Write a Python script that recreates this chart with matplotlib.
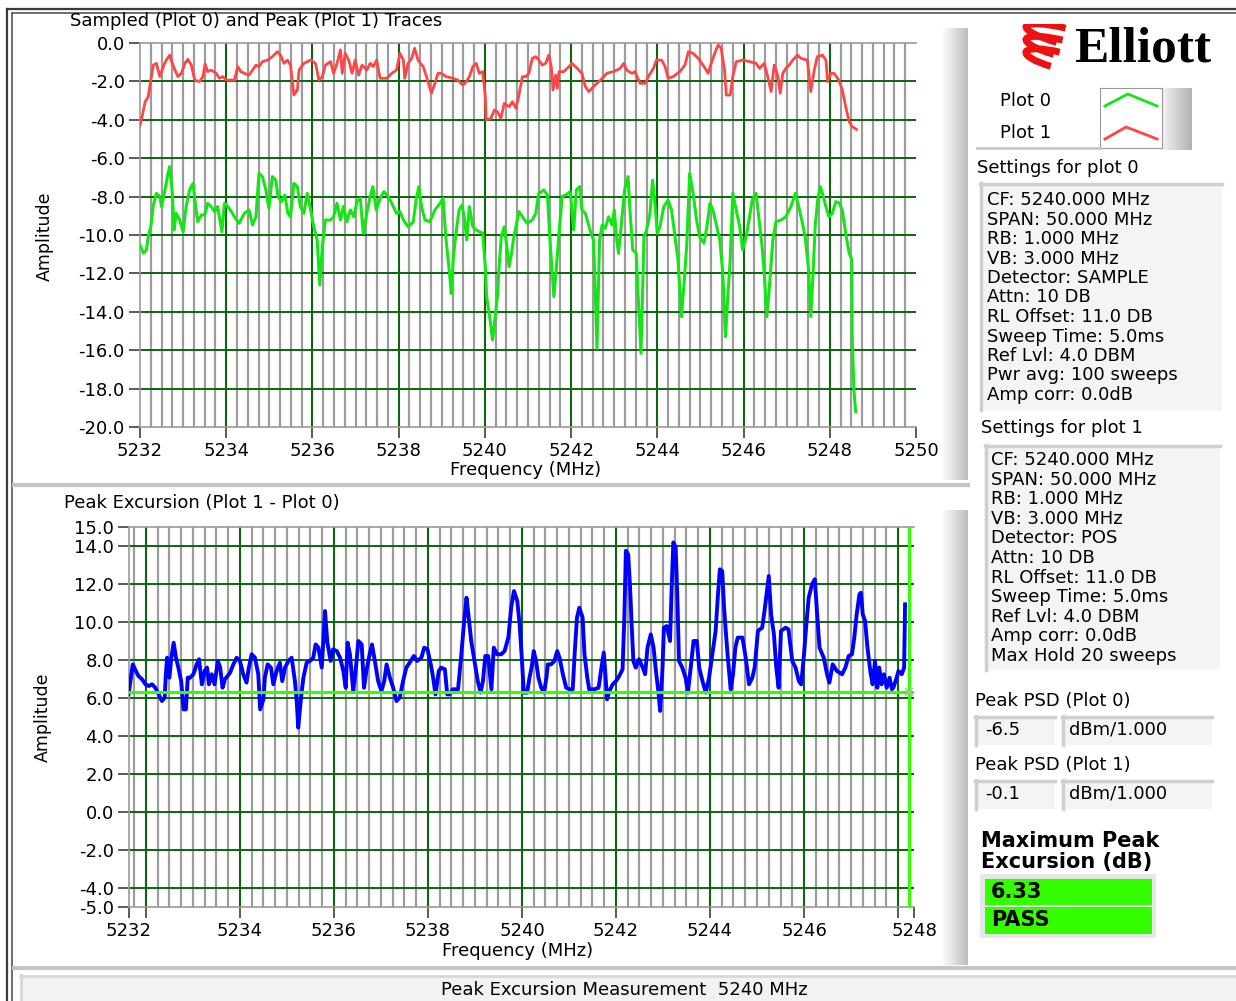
import matplotlib
matplotlib.use("Agg")
import matplotlib.pyplot as plt
from matplotlib.patches import Rectangle, Arc
from matplotlib.lines import Line2D
import numpy as np

plt.rcParams['font.family'] = ['DejaVu Sans']
plt.rcParams['axes.unicode_minus'] = False

W, H = 1236, 1001

# Plot 0 - sampled trace (green), MHz / amplitude
plot0_freq = [5232.00, 5232.08, 5232.15, 5232.19, 5232.25, 5232.31, 5232.38, 5232.46, 5232.50, 5232.58,
              5232.65, 5232.69, 5232.75, 5232.79, 5232.84, 5232.92, 5233.00, 5233.07, 5233.15, 5233.23,
              5233.31, 5233.34, 5233.42, 5233.50, 5233.57, 5233.65, 5233.73, 5233.80, 5233.90, 5233.96,
              5234.04, 5234.12, 5234.19, 5234.30, 5234.42, 5234.53, 5234.61, 5234.69, 5234.76, 5234.84,
              5234.92, 5234.99, 5235.07, 5235.15, 5235.20, 5235.28, 5235.36, 5235.43, 5235.49, 5235.57,
              5235.65, 5235.72, 5235.80, 5235.88, 5235.96, 5236.03, 5236.11, 5236.17, 5236.23, 5236.30,
              5236.42, 5236.49, 5236.57, 5236.65, 5236.72, 5236.80, 5236.88, 5236.96, 5237.03, 5237.11,
              5237.18, 5237.26, 5237.34, 5237.40, 5237.48, 5237.57, 5237.66, 5237.76, 5237.84, 5237.95,
              5238.03, 5238.11, 5238.22, 5238.34, 5238.41, 5238.47, 5238.53, 5238.61, 5238.72, 5238.84,
              5238.96, 5239.03, 5239.10, 5239.18, 5239.22, 5239.27, 5239.33, 5239.40, 5239.47, 5239.53,
              5239.58, 5239.64, 5239.72, 5239.80, 5239.87, 5239.95, 5240.01, 5240.04, 5240.11, 5240.18,
              5240.24, 5240.29, 5240.33, 5240.38, 5240.45, 5240.51, 5240.56, 5240.62, 5240.66, 5240.72,
              5240.79, 5240.87, 5240.98, 5241.10, 5241.18, 5241.25, 5241.37, 5241.45, 5241.52, 5241.60,
              5241.66, 5241.72, 5241.79, 5241.87, 5241.98, 5242.06, 5242.12, 5242.20, 5242.25, 5242.33,
              5242.45, 5242.52, 5242.56, 5242.60, 5242.66, 5242.72, 5242.79, 5242.87, 5242.95, 5243.00,
              5243.06, 5243.10, 5243.16, 5243.24, 5243.32, 5243.37, 5243.43, 5243.51, 5243.56, 5243.62,
              5243.66, 5243.69, 5243.75, 5243.83, 5243.89, 5243.95, 5244.00, 5244.06, 5244.15, 5244.25,
              5244.33, 5244.41, 5244.48, 5244.56, 5244.62, 5244.68, 5244.75, 5244.83, 5244.91, 5244.98,
              5245.08, 5245.15, 5245.22, 5245.29, 5245.38, 5245.45, 5245.52, 5245.58, 5245.64, 5245.69,
              5245.75, 5245.83, 5245.91, 5245.98, 5246.06, 5246.14, 5246.20, 5246.29, 5246.37, 5246.43,
              5246.48, 5246.54, 5246.60, 5246.68, 5246.75, 5246.87, 5246.98, 5247.10, 5247.20, 5247.28,
              5247.35, 5247.43, 5247.51, 5247.56, 5247.62, 5247.66, 5247.72, 5247.78, 5247.85, 5247.91,
              5247.98, 5248.06, 5248.14, 5248.22, 5248.29, 5248.37, 5248.45, 5248.51, 5248.52, 5248.56,
              5248.60]
plot0_amp = [-10.52, -10.95, -10.78, -10.09, -9.57, -8.44, -7.83, -8.00, -8.52, -7.66,
             -6.79, -6.44, -7.83, -9.74, -8.87, -9.22, -9.83, -8.52, -7.66, -7.31,
             -8.87, -9.31, -8.96, -8.96, -8.35, -8.52, -8.78, -8.52, -9.83, -8.35,
             -8.52, -8.78, -9.05, -9.39, -8.87, -8.70, -9.48, -9.05, -6.79, -6.96,
             -7.66, -8.61, -6.96, -7.14, -8.00, -8.26, -7.92, -8.87, -9.05, -7.31,
             -7.48, -8.52, -8.87, -7.83, -8.70, -9.57, -10.26, -12.60, -10.61, -9.22,
             -9.22, -9.05, -8.35, -9.22, -8.52, -9.31, -8.70, -9.05, -8.26, -8.09,
             -9.91, -8.87, -8.00, -7.48, -8.70, -8.09, -7.74, -8.00, -8.35, -8.87,
             -8.78, -9.22, -9.57, -9.31, -8.09, -7.48, -8.52, -9.22, -9.31, -8.70,
             -8.35, -8.09, -10.26, -12.00, -13.04, -11.13, -9.91, -8.70, -8.44, -9.22,
             -10.26, -8.52, -9.57, -9.74, -9.83, -9.91, -11.65, -13.21, -14.25, -15.47,
             -14.25, -13.21, -11.65, -10.09, -9.57, -10.61, -11.65, -10.95, -10.26, -9.57,
             -8.78, -9.05, -9.39, -9.22, -8.87, -7.83, -7.66, -7.92, -10.61, -13.21,
             -11.65, -9.91, -8.00, -7.92, -7.74, -9.74, -7.66, -7.48, -8.70, -8.87,
             -9.83, -10.26, -12.86, -15.90, -10.26, -9.48, -9.65, -9.05, -9.48, -8.70,
             -10.26, -10.95, -9.57, -7.66, -6.96, -8.87, -10.78, -10.95, -13.39, -16.16,
             -12.86, -10.09, -9.74, -8.87, -7.14, -8.52, -9.91, -9.57, -8.52, -8.18,
             -8.70, -10.09, -11.30, -14.25, -12.52, -10.61, -6.79, -7.83, -9.22, -10.09,
             -10.43, -9.57, -8.35, -8.70, -9.57, -10.26, -12.00, -15.30, -13.04, -11.30,
             -7.83, -8.70, -9.57, -10.78, -10.09, -9.05, -8.18, -7.83, -9.39, -10.61,
             -12.00, -14.25, -12.69, -10.26, -9.31, -9.22, -9.05, -8.52, -7.83, -8.52,
             -9.22, -10.09, -11.82, -14.25, -11.65, -9.57, -8.18, -7.48, -8.00, -8.52,
             -9.05, -8.87, -8.26, -8.35, -8.70, -9.91, -10.95, -11.30, -15.30, -18.07,
             -19.20]

# Plot 1 - peak trace (red)
plot1_freq = [5232.00, 5232.04, 5232.12, 5232.19, 5232.25, 5232.31, 5232.38, 5232.46, 5232.54, 5232.61,
              5232.69, 5232.75, 5232.81, 5232.88, 5232.96, 5233.04, 5233.11, 5233.19, 5233.27, 5233.38,
              5233.46, 5233.51, 5233.57, 5233.65, 5233.77, 5233.84, 5233.92, 5234.00, 5234.19, 5234.27,
              5234.34, 5234.42, 5234.53, 5234.61, 5234.69, 5234.76, 5234.84, 5234.96, 5235.07, 5235.19,
              5235.26, 5235.34, 5235.42, 5235.49, 5235.57, 5235.65, 5235.69, 5235.80, 5235.96, 5236.07,
              5236.15, 5236.23, 5236.30, 5236.42, 5236.49, 5236.57, 5236.65, 5236.69, 5236.76, 5236.84,
              5236.92, 5236.99, 5237.07, 5237.15, 5237.26, 5237.34, 5237.41, 5237.49, 5237.57, 5237.72,
              5237.84, 5237.95, 5238.03, 5238.11, 5238.14, 5238.22, 5238.30, 5238.37, 5238.45, 5238.57,
              5238.68, 5238.76, 5238.84, 5238.91, 5238.99, 5239.10, 5239.26, 5239.37, 5239.49, 5239.57,
              5239.64, 5239.72, 5239.80, 5239.87, 5239.95, 5240.01, 5240.03, 5240.14, 5240.22, 5240.29,
              5240.37, 5240.45, 5240.56, 5240.64, 5240.72, 5240.79, 5240.87, 5240.95, 5241.02, 5241.10,
              5241.18, 5241.25, 5241.33, 5241.41, 5241.48, 5241.54, 5241.58, 5241.64, 5241.68, 5241.72,
              5241.83, 5241.95, 5242.02, 5242.14, 5242.25, 5242.33, 5242.41, 5242.52, 5242.68, 5242.83,
              5242.98, 5243.14, 5243.22, 5243.29, 5243.41, 5243.48, 5243.60, 5243.72, 5243.79, 5243.91,
              5243.98, 5244.10, 5244.18, 5244.25, 5244.37, 5244.52, 5244.64, 5244.72, 5244.83, 5244.95,
              5245.06, 5245.18, 5245.25, 5245.33, 5245.41, 5245.48, 5245.56, 5245.60, 5245.69, 5245.75,
              5245.83, 5245.98, 5246.14, 5246.29, 5246.37, 5246.48, 5246.56, 5246.64, 5246.71, 5246.79,
              5246.85, 5246.91, 5246.98, 5247.06, 5247.14, 5247.25, 5247.33, 5247.48, 5247.56, 5247.64,
              5247.71, 5247.83, 5247.91, 5247.95, 5248.02, 5248.10, 5248.21, 5248.29, 5248.37, 5248.45,
              5248.52, 5248.62]
plot1_amp = [-4.27, -3.92, -3.06, -2.80, -1.93, -1.15, -1.06, -1.75, -1.23, -0.89,
             -0.63, -1.06, -1.41, -1.75, -1.58, -1.06, -0.85, -1.15, -1.93, -2.01,
             -1.75, -1.09, -1.49, -1.41, -1.58, -1.84, -1.75, -1.93, -1.93, -1.23,
             -1.49, -1.58, -1.67, -1.41, -1.15, -1.23, -0.97, -0.89, -0.71, -0.45,
             -0.63, -1.06, -0.89, -1.15, -2.71, -2.45, -1.41, -1.06, -0.89, -1.06,
             -1.93, -1.75, -1.15, -0.97, -1.58, -1.06, -0.36, -1.58, -0.54, -0.89,
             -1.58, -0.89, -1.67, -1.15, -1.41, -1.06, -1.23, -0.89, -1.84, -1.84,
             -1.58, -1.41, -0.54, -0.89, -1.84, -1.06, -0.80, -0.28, -0.89, -1.23,
             -2.01, -2.62, -2.10, -1.58, -1.58, -1.75, -1.84, -1.93, -2.19, -2.01,
             -1.75, -1.23, -1.06, -1.58, -1.49, -2.80, -4.01, -3.92, -3.49, -3.58,
             -3.92, -3.14, -3.32, -3.06, -3.40, -2.71, -1.75, -1.75, -1.58, -0.80,
             -0.71, -0.89, -1.15, -1.06, -0.63, -1.23, -2.45, -1.67, -2.36, -1.49,
             -1.49, -1.23, -1.06, -1.32, -1.58, -2.27, -2.53, -2.27, -1.93, -1.58,
             -1.49, -1.32, -1.06, -1.41, -1.58, -1.49, -2.10, -2.10, -1.75, -1.32,
             -0.89, -0.89, -1.23, -1.84, -1.75, -1.49, -1.15, -0.45, -0.54, -0.80,
             -1.15, -1.58, -1.06, -0.54, -0.10, -0.28, -1.41, -2.71, -2.71, -1.75,
             -0.97, -0.89, -0.97, -1.06, -1.32, -1.06, -1.75, -2.53, -1.15, -1.67,
             -2.62, -1.58, -1.32, -1.15, -0.89, -0.63, -0.80, -0.89, -2.53, -1.41,
             -0.71, -0.63, -0.89, -2.01, -1.58, -1.58, -1.93, -2.45, -3.32, -4.10,
             -4.36, -4.50]

# Peak excursion (Plot 1 - Plot 0), blue
excursion_freq = [5231.63, 5231.67, 5231.72, 5231.77, 5231.84, 5231.92, 5231.99, 5232.06, 5232.13, 5232.20,
                  5232.27, 5232.34, 5232.40, 5232.42, 5232.45, 5232.50, 5232.54, 5232.59, 5232.64, 5232.69,
                  5232.75, 5232.80, 5232.85, 5232.89, 5232.94, 5233.01, 5233.08, 5233.13, 5233.19, 5233.25,
                  5233.30, 5233.34, 5233.40, 5233.46, 5233.53, 5233.58, 5233.63, 5233.68, 5233.79, 5233.86,
                  5233.93, 5234.00, 5234.07, 5234.14, 5234.19, 5234.25, 5234.32, 5234.39, 5234.43, 5234.50,
                  5234.53, 5234.59, 5234.66, 5234.71, 5234.78, 5234.85, 5234.90, 5234.96, 5235.03, 5235.10,
                  5235.17, 5235.21, 5235.24, 5235.30, 5235.35, 5235.42, 5235.49, 5235.56, 5235.61, 5235.67,
                  5235.74, 5235.77, 5235.81, 5235.86, 5235.93, 5235.98, 5236.06, 5236.13, 5236.20, 5236.25,
                  5236.29, 5236.34, 5236.41, 5236.46, 5236.52, 5236.59, 5236.64, 5236.69, 5236.76, 5236.81,
                  5236.87, 5236.94, 5237.01, 5237.07, 5237.12, 5237.19, 5237.26, 5237.33, 5237.40, 5237.47,
                  5237.54, 5237.61, 5237.70, 5237.77, 5237.86, 5237.92, 5237.99, 5238.06, 5238.11, 5238.16,
                  5238.23, 5238.28, 5238.36, 5238.41, 5238.46, 5238.53, 5238.64, 5238.71, 5238.77, 5238.82,
                  5238.86, 5238.92, 5238.99, 5239.06, 5239.12, 5239.17, 5239.22, 5239.28, 5239.35, 5239.40,
                  5239.47, 5239.56, 5239.63, 5239.71, 5239.77, 5239.83, 5239.90, 5239.95, 5240.00, 5240.04,
                  5240.11, 5240.16, 5240.21, 5240.25, 5240.30, 5240.35, 5240.41, 5240.47, 5240.52, 5240.55,
                  5240.62, 5240.69, 5240.75, 5240.80, 5240.87, 5240.94, 5241.01, 5241.08, 5241.12, 5241.17,
                  5241.22, 5241.29, 5241.33, 5241.39, 5241.43, 5241.54, 5241.63, 5241.68, 5241.74, 5241.77,
                  5241.81, 5241.86, 5241.93, 5242.00, 5242.07, 5242.14, 5242.18, 5242.21, 5242.26, 5242.30,
                  5242.33, 5242.37, 5242.42, 5242.49, 5242.57, 5242.62, 5242.67, 5242.74, 5242.80, 5242.85,
                  5242.90, 5242.94, 5242.99, 5243.02, 5243.08, 5243.15, 5243.18, 5243.22, 5243.27, 5243.31,
                  5243.34, 5243.41, 5243.48, 5243.53, 5243.59, 5243.65, 5243.72, 5243.77, 5243.84, 5243.91,
                  5243.98, 5244.05, 5244.12, 5244.17, 5244.21, 5244.26, 5244.30, 5244.33, 5244.38, 5244.44,
                  5244.49, 5244.54, 5244.59, 5244.69, 5244.76, 5244.83, 5244.90, 5244.95, 5245.02, 5245.11,
                  5245.16, 5245.22, 5245.25, 5245.30, 5245.36, 5245.41, 5245.46, 5245.51, 5245.61, 5245.67,
                  5245.75, 5245.82, 5245.89, 5245.94, 5246.00, 5246.05, 5246.10, 5246.17, 5246.23, 5246.28,
                  5246.33, 5246.42, 5246.49, 5246.54, 5246.61, 5246.70, 5246.81, 5246.88, 5246.95, 5247.02,
                  5247.07, 5247.12, 5247.18, 5247.21, 5247.25, 5247.30, 5247.35, 5247.41, 5247.46, 5247.51,
                  5247.56, 5247.60, 5247.65, 5247.70, 5247.76, 5247.82, 5247.87, 5247.90, 5247.96, 5248.01,
                  5248.08, 5248.13, 5248.15]
excursion_amp = [6.19, 6.89, 7.77, 7.51, 7.16, 6.98, 6.72, 6.63, 6.72, 6.54,
                 6.19, 5.84, 6.02, 7.07, 8.12, 7.07, 8.12, 8.91, 8.12, 7.60,
                 6.89, 5.40, 5.40, 7.07, 7.07, 7.25, 7.77, 8.04, 6.72, 7.42,
                 7.60, 6.72, 7.25, 6.72, 7.95, 7.60, 6.54, 6.98, 7.33, 7.77,
                 8.12, 7.95, 7.25, 6.81, 7.60, 8.30, 8.12, 7.25, 5.40, 5.93,
                 7.07, 7.77, 7.60, 6.72, 7.42, 7.86, 6.89, 7.60, 7.95, 8.12,
                 6.89, 5.75, 4.44, 6.02, 7.07, 7.86, 7.95, 8.12, 8.82, 8.65,
                 7.60, 8.82, 10.58, 8.91, 7.95, 8.56, 8.47, 8.12, 7.42, 6.54,
                 8.91, 8.30, 6.37, 7.42, 9.00, 8.82, 6.54, 7.42, 8.30, 8.82,
                 7.95, 6.89, 6.37, 6.89, 7.77, 7.07, 6.54, 5.84, 6.02, 6.89,
                 7.60, 7.86, 8.21, 7.95, 8.12, 8.65, 8.56, 7.77, 7.07, 6.19,
                 7.42, 7.60, 7.51, 6.19, 6.19, 6.46, 6.46, 8.30, 10.05, 11.28,
                 10.40, 9.00, 7.95, 6.89, 6.28, 6.89, 8.21, 8.21, 6.46, 8.65,
                 8.30, 8.30, 8.47, 9.18, 10.75, 11.63, 11.11, 9.88, 7.95, 6.28,
                 6.28, 7.07, 7.68, 8.47, 7.95, 7.07, 6.54, 6.28, 7.07, 7.77,
                 7.77, 7.95, 8.47, 8.12, 7.25, 6.54, 6.46, 6.46, 8.30, 10.23,
                 10.75, 10.23, 8.30, 7.07, 6.46, 6.46, 6.54, 7.42, 8.39, 7.42,
                 5.93, 6.37, 6.72, 6.89, 7.16, 7.51, 10.40, 13.75, 13.56, 11.81,
                 10.05, 7.95, 7.60, 8.04, 7.60, 7.25, 8.65, 9.35, 8.65, 7.42,
                 6.37, 5.32, 7.60, 9.70, 9.79, 9.00, 11.46, 14.19, 13.93, 10.93,
                 7.95, 7.60, 7.07, 6.28, 7.60, 9.00, 9.00, 7.60, 6.89, 6.28,
                 7.07, 8.30, 9.53, 11.46, 12.77, 12.68, 10.75, 9.70, 8.12, 6.46,
                 7.25, 8.65, 9.18, 9.18, 8.12, 6.72, 7.07, 7.60, 9.53, 9.70,
                 10.58, 11.81, 12.42, 10.40, 9.35, 7.60, 6.54, 9.53, 9.70, 9.61,
                 7.95, 7.60, 6.89, 6.72, 8.30, 9.88, 11.28, 11.98, 12.25, 10.40,
                 8.65, 8.12, 7.25, 6.81, 7.77, 7.42, 7.25, 7.60, 8.21, 8.30,
                 9.18, 10.40, 11.46, 11.54, 10.40, 10.05, 8.65, 7.42, 6.72, 7.95,
                 6.54, 7.60, 6.72, 7.25, 6.54, 7.07, 6.46, 6.54, 6.98, 7.42,
                 7.25, 7.60, 10.93]

peak_limit = 6.33
cursor_freq = 5248.23

top_xticks = [5232, 5234, 5236, 5238, 5240, 5242, 5244, 5246, 5248, 5250]
top_yticks = [0.0, -2.0, -4.0, -6.0, -8.0, -10.0, -12.0, -14.0, -16.0, -18.0, -20.0]
bottom_xticks = [5231.64, 5232, 5234, 5236, 5238, 5240, 5242, 5244, 5246, 5248, 5248.34]
bottom_xlabels = ['5232', '', '5234', '5236', '5238', '5240', '5242', '5244', '5246', '', '5248']
bottom_yticks = [15.0, 14.0, 12.0, 10.0, 8.0, 6.0, 4.0, 2.0, 0.0, -2.0, -4.0, -5.0]

settings_plot0 = ['CF: 5240.000 MHz', 'SPAN: 50.000 MHz', 'RB: 1.000 MHz', 'VB: 3.000 MHz',
                  'Detector: SAMPLE', 'Attn: 10 DB', 'RL Offset: 11.0 DB', 'Sweep Time: 5.0ms',
                  'Ref Lvl: 4.0 DBM', 'Pwr avg: 100 sweeps', 'Amp corr: 0.0dB']
settings_plot1 = ['CF: 5240.000 MHz', 'SPAN: 50.000 MHz', 'RB: 1.000 MHz', 'VB: 3.000 MHz',
                  'Detector: POS', 'Attn: 10 DB', 'RL Offset: 11.0 DB', 'Sweep Time: 5.0ms',
                  'Ref Lvl: 4.0 DBM', 'Amp corr: 0.0dB', 'Max Hold 20 sweeps']
peak_psd_plot0 = '-6.5'
peak_psd_plot1 = '-0.1'
psd_unit = 'dBm/1.000'
max_excursion = '6.33'
verdict = 'PASS'

GRID_GREEN = '#0b650b'
GRID_GRAY = '#9c9c9c'
TRACE_GREEN = '#14e614'
TRACE_RED = '#ff4545'
TRACE_BLUE = '#0000ff'
BRIGHT_GREEN = '#33ff00'
FS = 13

fig = plt.figure(figsize=(W / 100, H / 100), dpi=100)
fig.patch.set_facecolor('white')


def fx(px):
    return px / W


def fy(py):
    return 1 - py / H


def box(x0, y0, x1, y1, face, z=0):
    fig.patches.append(Rectangle((fx(x0), fy(y1)), (x1 - x0) / W, (y1 - y0) / H,
                                 transform=fig.transFigure, facecolor=face,
                                 edgecolor='none', zorder=z))


def line(x0, y0, x1, y1, color, lw):
    fig.add_artist(Line2D([fx(x0), fx(x1)], [fy(y0), fy(y1)], color=color, lw=lw,
                          transform=fig.transFigure))


def sunken_box(x0, y0, x1, y1, face='#f4f4f4'):
    box(x0, y0, x1, y1, face)
    line(x0, y0 + 1, x1, y0 + 1, '#cfcfcf', 2.5)
    line(x0 + 1, y0, x0 + 1, y1, '#cfcfcf', 2.5)


def gradient(x0, y0, x1, y1, c0, c1):
    gax = fig.add_axes([fx(x0), fy(y1), (x1 - x0) / W, (y1 - y0) / H])
    gax.imshow(np.linspace(c0, c1, 32).reshape(1, -1), cmap='gray', vmin=0, vmax=1,
               aspect='auto', interpolation='bilinear')
    gax.axis('off')


def style_axes(ax, xlim, ylim, xticks, xlabels, yticks, minor_x, major_x, major_y):
    ax.set_xlim(*xlim)
    ax.set_ylim(*ylim)
    ax.set_xticks(xticks)
    ax.set_xticklabels(xlabels)
    ax.set_yticks(yticks)
    ax.set_yticklabels(['%.1f' % v for v in yticks])
    for f in minor_x:
        ax.axvline(f, color=GRID_GRAY, lw=1.6, zorder=1)
    for f in major_x:
        ax.axvline(f, color=GRID_GREEN, lw=1.4, zorder=2)
    for a in major_y:
        ax.axhline(a, color=GRID_GREEN, lw=1.4, zorder=2)
    ax.tick_params(direction='out', length=8, width=1.2, color='#404040',
                   labelsize=FS, pad=3)
    for side in ['left', 'top', 'bottom']:
        ax.spines[side].set_color('#9a9a9a')
        ax.spines[side].set_linewidth(1.2)
    ax.spines['right'].set_visible(False)
    ax.set_facecolor('white')


# outer frame and panel separators
line(7, 9, 7, 1001, '#3a3a3a', 1.6)
line(12, 13, 12, 1001, '#555555', 1.2)
line(7, 9, 1236, 9, '#3a3a3a', 1.6)
line(12, 13, 1236, 13, '#555555', 1.2)
line(14, 485, 968, 485, '#c4c4c4', 3)
line(14, 968, 1236, 968, '#c4c4c4', 3)
box(20, 975, 1236, 1001, '#f2f2f2')
line(20, 976, 1236, 976, '#d8d8d8', 2)
line(21, 975, 21, 1001, '#d8d8d8', 2)
gradient(943, 28, 968, 480, 0.98, 0.74)
gradient(943, 510, 968, 965, 0.98, 0.74)

# top graph
ax1 = fig.add_axes([fx(140), fy(427), (916 - 140) / W, (427 - 43) / H])
style_axes(ax1, (5232, 5250), (-20, 0), top_xticks, [str(t) for t in top_xticks], top_yticks,
           np.arange(5232.25, 5250, 0.25), top_xticks[1:-1], top_yticks[1:-1])
ax1.plot(plot0_freq, plot0_amp, color=TRACE_GREEN, lw=2.2, zorder=3)
ax1.plot(plot1_freq, plot1_amp, color=TRACE_RED, lw=2.0, zorder=3)
fig.text(fx(70), fy(21), 'Sampled (Plot 0) and Peak (Plot 1) Traces', fontsize=FS, va='center')
fig.text(fx(526), fy(470), 'Frequency (MHz)', fontsize=FS, ha='center', va='center')
fig.text(fx(45), fy(236), 'Amplitude', fontsize=12.5, rotation=90, ha='center', va='center',
         family=['Liberation Sans Narrow', 'DejaVu Sans'])

# bottom graph
ax2 = fig.add_axes([fx(129), fy(907), (914 - 129) / W, (907 - 527) / H])
style_axes(ax2, (5231.64, 5248.34), (-5, 15), bottom_xticks, bottom_xlabels, bottom_yticks,
           np.arange(5231.75, 5248.3, 0.25), bottom_xticks[1:-1], bottom_yticks[1:-1])
ax2.plot(excursion_freq, excursion_amp, color=TRACE_BLUE, lw=2.8, zorder=3)
ax2.axhline(peak_limit, color=BRIGHT_GREEN, lw=2.2, zorder=4)
ax2.axvline(cursor_freq, color=BRIGHT_GREEN, lw=2.2, zorder=4)
ax2.plot([cursor_freq], [peak_limit], marker='x', color='#b8b8b8', ms=6, mew=1.2, zorder=5)
fig.text(fx(64), fy(503), 'Peak Excursion (Plot 1 - Plot 0)', fontsize=FS, va='center')
fig.text(fx(518), fy(951), 'Frequency (MHz)', fontsize=FS, ha='center', va='center')
fig.text(fx(43), fy(717), 'Amplitude', fontsize=12.5, rotation=90, ha='center', va='center',
         family=['Liberation Sans Narrow', 'DejaVu Sans'])

fig.text(fx(624), fy(990), 'Peak Excursion Measurement  5240 MHz', fontsize=FS,
         ha='center', va='center')

# logo: three red swoosh strokes plus the name
lax = fig.add_axes([fx(1012), fy(76), 68 / W, 52 / H])
lax.set_xlim(0, 68)
lax.set_ylim(0, 52)
lax.axis('off')
for i, yc in enumerate([40, 28, 16]):
    lax.add_patch(Arc((52 - 3 * i, yc), 78 - 6 * i, 16, angle=-14, theta1=92, theta2=235,
                      color='#ee1111', lw=5))
fig.text(fx(1074), fy(50), 'Elliott', fontsize=37, weight='bold', va='center',
         family=['Liberation Serif', 'DejaVu Serif'])

# legend
fig.text(fx(1000), fy(101), 'Plot 0', fontsize=FS, va='center')
fig.text(fx(1000), fy(133), 'Plot 1', fontsize=FS, va='center')
line(977, 148, 1100, 148, '#c8c8c8', 2)
gradient(1160, 88, 1192, 150, 0.97, 0.70)
sax = fig.add_axes([fx(1100), fy(148), 62 / W, 60 / H])
sax.set_xlim(0, 1)
sax.set_ylim(0, 1)
sax.set_xticks([])
sax.set_yticks([])
for s in sax.spines.values():
    s.set_color('#9a9a9a')
sax.plot([0.08, 0.45, 0.92], [0.70, 0.90, 0.70], color=TRACE_GREEN, lw=2)
sax.plot([0.08, 0.42, 0.92], [0.15, 0.35, 0.15], color=TRACE_RED, lw=2)

# settings panels
fig.text(fx(977), fy(168), 'Settings for plot 0', fontsize=FS, va='center')
sunken_box(980, 183, 1222, 410)
for i, s in enumerate(settings_plot0):
    fig.text(fx(987), fy(200 + 19.5 * i), s, fontsize=FS, va='center')

fig.text(fx(981), fy(428), 'Settings for plot 1', fontsize=FS, va='center')
sunken_box(985, 445, 1220, 670)
for i, s in enumerate(settings_plot1):
    fig.text(fx(991), fy(460 + 19.6 * i), s, fontsize=FS, va='center')

# peak PSD read-outs
for label, value, y in [('Peak PSD (Plot 0)', peak_psd_plot0, 701),
                        ('Peak PSD (Plot 1)', peak_psd_plot1, 765)]:
    fig.text(fx(975), fy(y), label, fontsize=FS, va='center')
    sunken_box(975, y + 15, 1055, y + 44)
    sunken_box(1062, y + 15, 1212, y + 44)
    fig.text(fx(985), fy(y + 29), value, fontsize=FS, va='center')
    fig.text(fx(1069), fy(y + 29), psd_unit, fontsize=FS, va='center')

# result
fig.text(fx(981), fy(841), 'Maximum Peak', fontsize=15, weight='bold', va='center')
fig.text(fx(981), fy(862), 'Excursion (dB)', fontsize=15, weight='bold', va='center')
box(980, 874, 1156, 938, '#e6e6e6')
box(985, 879, 1152, 905, BRIGHT_GREEN, z=1)
box(985, 907, 1152, 934, BRIGHT_GREEN, z=1)
fig.text(fx(991), fy(892), max_excursion, fontsize=15, weight='bold', va='center')
fig.text(fx(991), fy(920), verdict, fontsize=15, weight='bold', va='center')

fig.savefig('out.png', dpi=100, facecolor='white')
